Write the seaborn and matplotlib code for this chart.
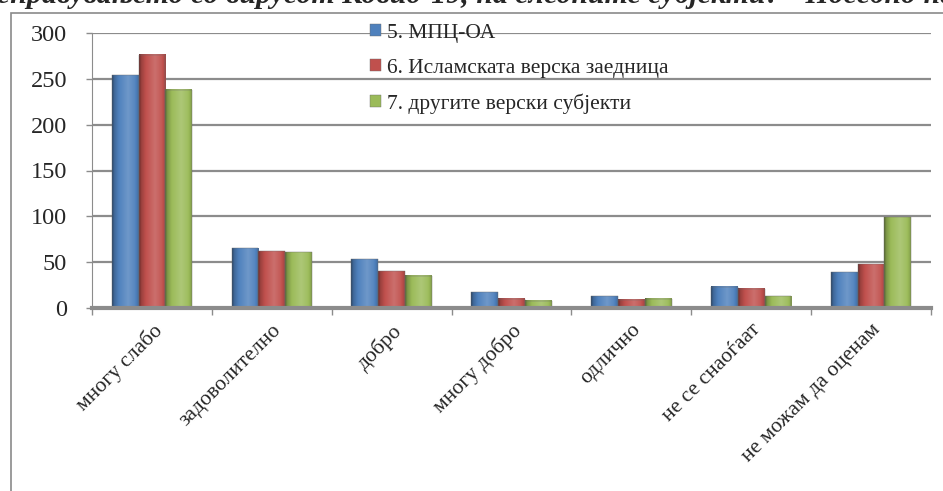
import numpy as np
import pandas as pd
import matplotlib.pyplot as plt
import matplotlib.colors as mcolors
import seaborn as sns
from matplotlib.patches import Rectangle

# Податоци од графиконот
kategorii = ['многу слабо', 'задоволително', 'добро', 'многу добро',
             'одлично', 'не се снаоѓаат', 'не можам да оценам']
mpc_oa = [254, 65, 53, 17, 13, 23, 39]
islamska = [276, 62, 40, 10, 9, 21, 48]
drugi = [238, 61, 35, 8, 10, 13, 99]
serii = ['5. МПЦ-ОА', '6. Исламската верска заедница', '7. другите верски субјекти']
boi = ['#4f81bd', '#c0504d', '#9bbb59']

df = pd.DataFrame({
    'Категорија': kategorii * 3,
    'Вредност': mpc_oa + islamska + drugi,
    'Субјект': [s for s in serii for _ in kategorii],
})

sns.set_style('white')
plt.rcParams['font.family'] = ['Liberation Serif', 'DejaVu Serif']

fig = plt.figure(figsize=(9.43, 4.91), dpi=100)
ax = fig.add_axes([92 / 943, 1 - 308 / 491, (931 - 92) / 943, (308 - 33) / 491])

sns.barplot(data=df, x='Категорија', y='Вредност', hue='Субјект', palette=boi,
            saturation=1, width=0.67, edgecolor='#6a6a6a', linewidth=0.3, ax=ax)

# сенчење на столбовите (ефект на цилиндар)
t = np.linspace(0, 1, 60)
profil = np.interp(t, [0, 0.08, 0.25, 0.6, 0.85, 1], [-0.45, -0.2, 0.0, 0.18, 0.05, -0.15])
for bar in list(ax.patches):
    h = bar.get_height()
    if h <= 0:
        continue
    x0 = bar.get_x()
    w = bar.get_width()
    base = np.array(mcolors.to_rgb(bar.get_facecolor()))
    rgb = np.empty((1, len(t), 3))
    for i, p in enumerate(profil):
        rgb[0, i] = base * (1 + p) if p < 0 else base + (1 - base) * p
    ax.imshow(rgb, extent=[x0, x0 + w, 0, h], aspect='auto', interpolation='bilinear', zorder=bar.get_zorder())
    bar.set_facecolor('none')
    bar.set_zorder(bar.get_zorder() + 0.1)

ax.set_ylim(0, 300)
ax.set_xlim(-0.5, 6.5)
ax.set_yticks(range(0, 301, 50))
ax.yaxis.grid(True, color='#8c8c8c', linewidth=1.6)
ax.set_axisbelow(True)
ax.set_xlabel('')
ax.set_ylabel('')

ax.set_xticks(range(len(kategorii)))
ax.set_xticklabels(kategorii, rotation=45, ha='right', rotation_mode='anchor', fontsize=15.5)
ax.set_xticks(np.arange(-0.5, 7, 1), minor=True)
ax.tick_params(axis='x', which='major', length=0, pad=9)
ax.tick_params(axis='x', which='minor', length=5, width=1, color='#8c8c8c', direction='out', bottom=True)
ax.tick_params(axis='y', length=4, width=1, color='#8c8c8c', direction='out', left=True, labelsize=17.5, pad=14)

for s in ['top', 'right']:
    ax.spines[s].set_visible(False)
ax.spines['left'].set_color('#8c8c8c')
ax.spines['bottom'].set_color('#8c8c8c')
ax.spines['bottom'].set_linewidth(3)

ax.legend(loc='upper left', bbox_to_anchor=(370 / 943, 1 - 24 / 491), bbox_transform=fig.transFigure,
          frameon=False, fontsize=15.5, handlelength=0.5, handleheight=0.5, handletextpad=0.3,
          labelspacing=0.72, borderpad=0, borderaxespad=0)

# Наслов (делумно отсечен на врвот)
fig.text(-0.003, 1 - 3 / 491,
         'справувањето со вирусот Ковид-19, на следните субјекти? - Посебно на',
         fontsize=21.5, fontweight='bold', fontstyle='italic', va='baseline', ha='left')

# Рамка на графиконот
fig.add_artist(Rectangle((11 / 943, -0.1), 1.1, 1 - 13 / 491 + 0.1, transform=fig.transFigure,
                         fill=False, edgecolor='#8a8a8a', linewidth=1.2))

fig.savefig('out.png', dpi=100)
